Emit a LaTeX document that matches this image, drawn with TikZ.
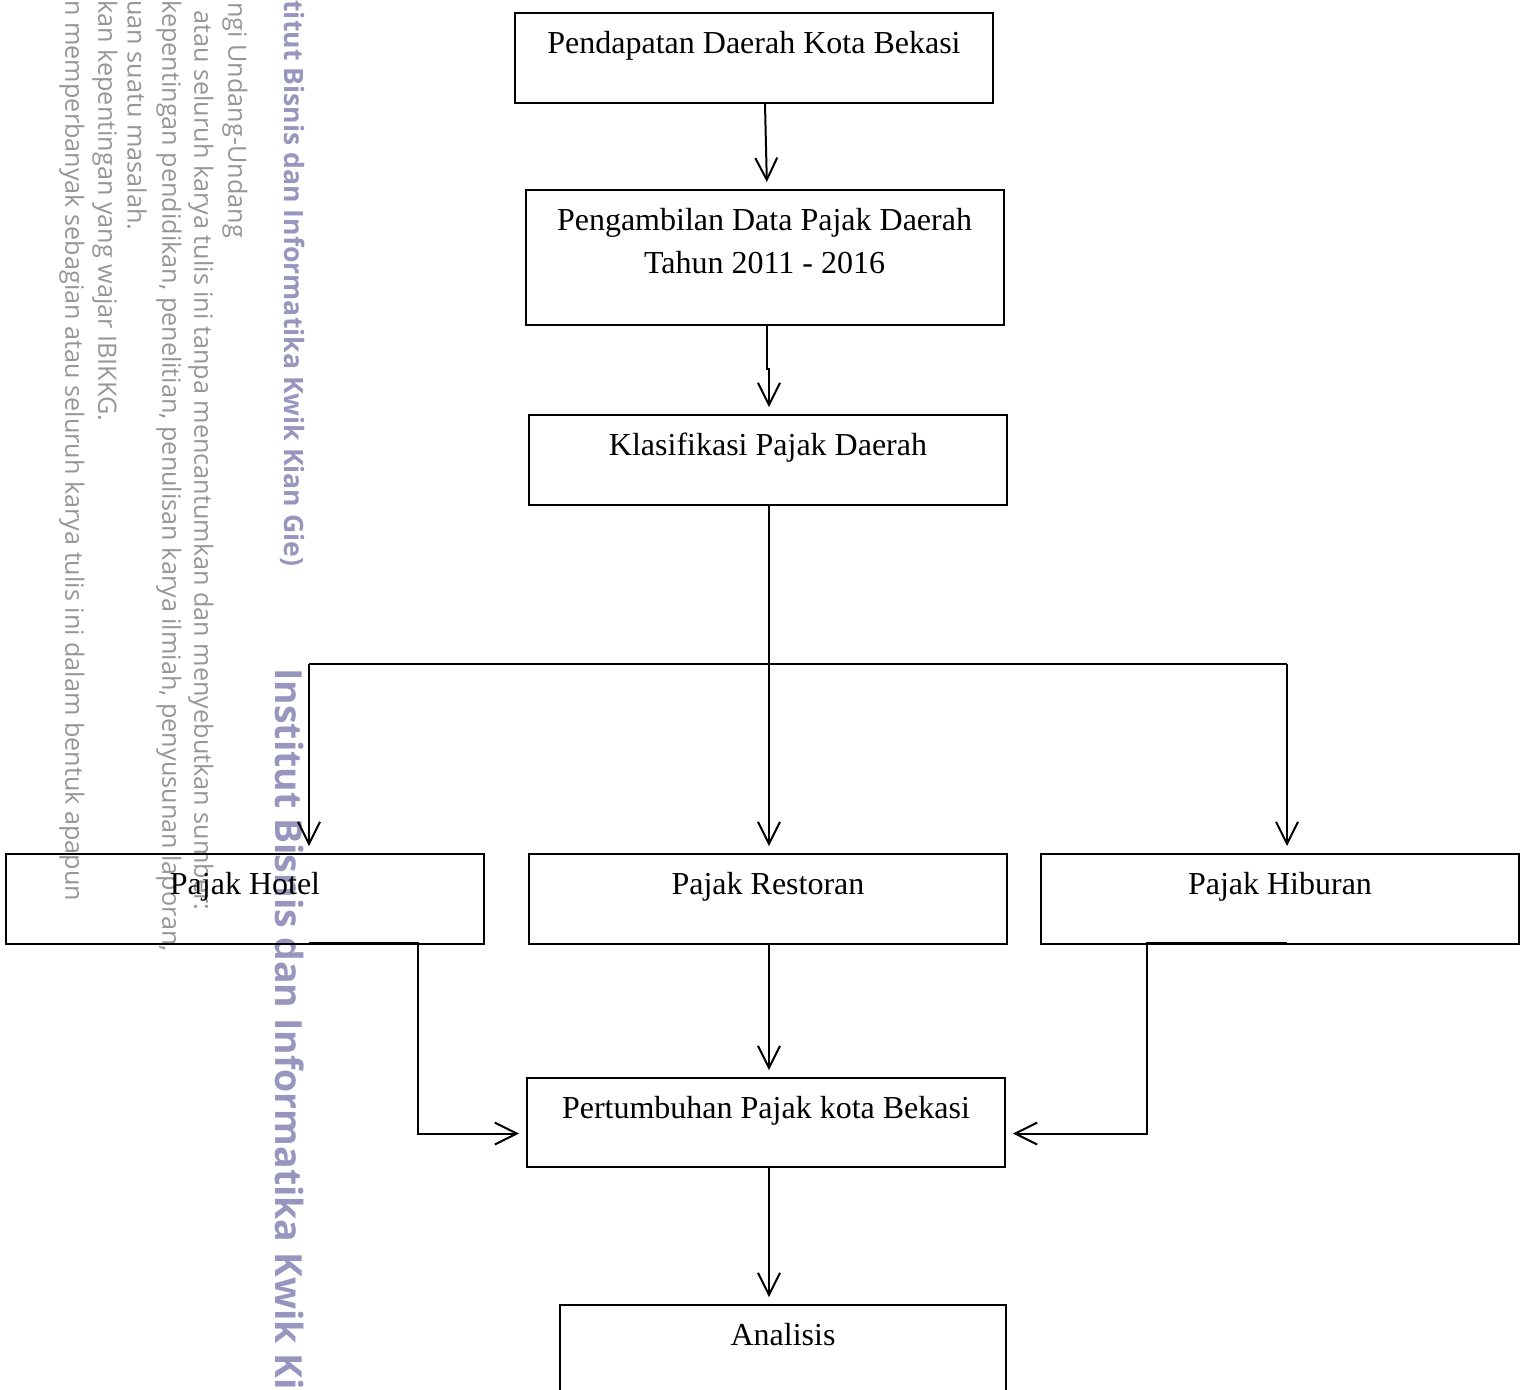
\documentclass[tikz,border=0pt]{standalone}
\usepackage{fontspec}
\setmainfont{Liberation Serif}
\newfontfamily\wmfont{Open Sans}
\usetikzlibrary{arrows.meta}
\definecolor{wmblue}{RGB}{150,150,190}
\definecolor{wmgray}{RGB}{150,150,150}

\begin{document}
\begin{tikzpicture}[x=0.5pt, y=-0.5pt,
  box/.style={draw, line width=1pt, minimum width=239pt, inner xsep=0pt, inner ysep=0pt,
    anchor=north, align=center, font=\fontsize{16}{21.5}\selectfont,
    text height=20pt, text depth=25pt},
  arr/.style={line width=1pt, shorten >=3.5pt, -{Straight Barb[length=11pt, width=11pt, line width=1pt]}},
  link/.style={line width=1pt},
  wmline/.style={rotate=-90, anchor=west, inner sep=0pt, text=wmgray, font=\wmfont\fontsize{12.6}{14}\selectfont},
  wmbold/.style={rotate=-90, anchor=west, inner sep=0pt, text=wmblue, font=\wmfont\bfseries}]
  \useasboundingbox (0,0) rectangle (1528,1389);

  % watermark of the scanned page
  \begin{scope}
    \clip (0,0) rectangle (1528,1389);
    \node[wmbold, font=\wmfont\bfseries\fontsize{13.3}{15}\selectfont] (wm1) at (293,0) {titut Bisnis dan Informatika Kwik Kian Gie)};
    \node[wmbold, font=\wmfont\bfseries\fontsize{18.7}{20}\selectfont] (wm2) at (290,668) {Institut Bisnis dan Informatika Kwik Ki};
    \node[wmline] (wm3) at (235,2) {ngi Undang-Undang};
    \node[wmline] (wm4) at (201,10) {atau seluruh karya tulis ini tanpa mencantumkan dan menyebutkan sumber:};
    \node[wmline] (wm5) at (169,0) {kepentingan pendidikan, penelitian, penulisan karya ilmiah, penyusunan laporan,};
    \node[wmline] (wm6) at (137,0) {uan suatu masalah.};
    \node[wmline] (wm7) at (105,0) {kan kepentingan yang wajar IBIKKG.};
    \node[wmline] (wm8) at (72,0) {n memperbanyak sebagian atau seluruh karya tulis ini dalam bentuk apapun};
  \end{scope}

  % boxes
  \node[box] (pendapatan) at (754,12) {Pendapatan Daerah Kota Bekasi};
  \node[box, text height=41.5pt, text depth=26pt] (pengambilan) at (764.5,189) {Pengambilan Data Pajak Daerah\\Tahun 2011 - 2016};
  \node[box] (klasifikasi) at (768,414) {Klasifikasi Pajak Daerah};
  \node[box] (hotel) at (245,853) {Pajak Hotel};
  \node[box] (restoran) at (768,853) {Pajak Restoran};
  \node[box] (hiburan) at (1280,853) {Pajak Hiburan};
  \node[box, text depth=24.5pt] (pertumbuhan) at (766,1077) {Pertumbuhan Pajak kota Bekasi};
  \node[box, minimum width=223pt] (analisis) at (783,1304) {Analisis};

  % branch points
  \coordinate (split) at (769,664);
  \coordinate (splitL) at (309,664);
  \coordinate (splitR) at (1287,664);

  % top chain
  \draw[arr] ([xshift=5.5pt]pendapatan.south) -- ([xshift=1.25pt]pengambilan.north);
  \draw[arr] ([xshift=1.25pt]pengambilan.south) -- ++(0,43) -- ++(2,0) -- ([xshift=0.5pt]klasifikasi.north);

  % split into the three taxes
  \draw[link] ([xshift=0.5pt]klasifikasi.south) -- (split);
  \draw[link] (splitL) -- (splitR);
  \draw[arr] (splitL) -- (splitL |- hotel.north);
  \draw[arr] (split) -- (split |- restoran.north);
  \draw[arr] (splitR) -- (splitR |- hiburan.north);

  % back into growth
  \draw[arr] ([xshift=32pt, yshift=1pt]hotel.south) -- ++(109,0) |- ([yshift=-5.5pt]pertumbuhan.west);
  \draw[arr] ([xshift=3.5pt, yshift=1pt]hiburan.south) -- ++(-140,0) |- ([yshift=-5.5pt]pertumbuhan.east);
  \draw[arr] ([xshift=0.5pt]restoran.south) -- ([xshift=1.5pt]pertumbuhan.north);
  \draw[arr] ([xshift=1.5pt]pertumbuhan.south) -- ([xshift=-7pt]analisis.north);
\end{tikzpicture}
\end{document}
